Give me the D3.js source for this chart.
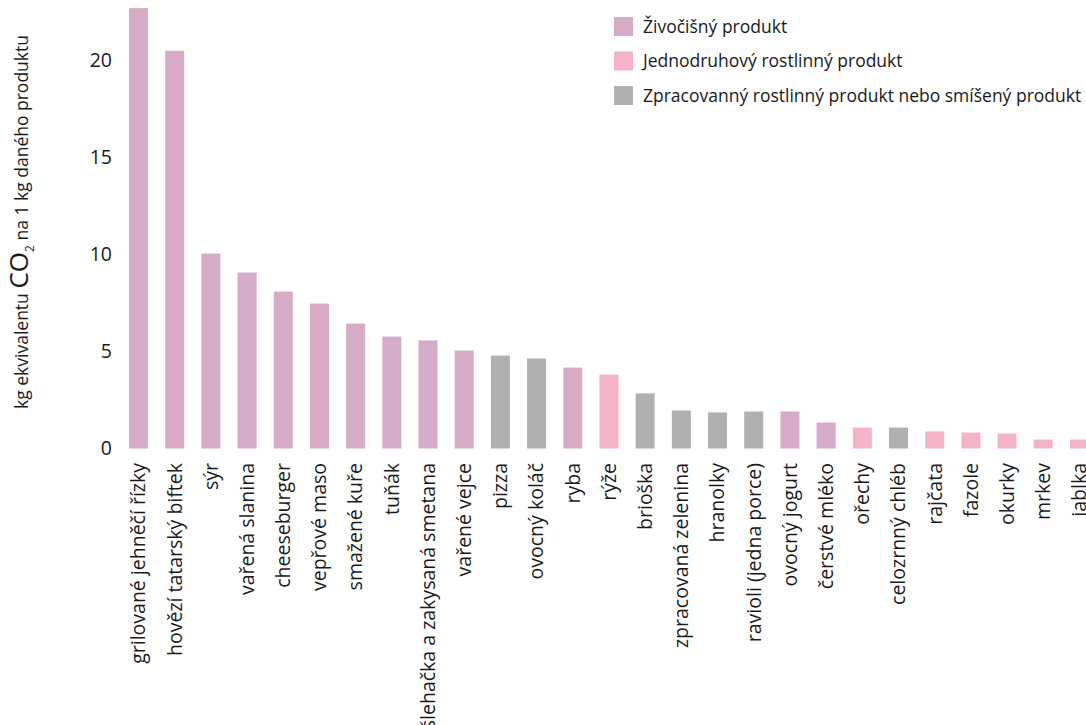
<!DOCTYPE html>
<html>
<head>
<meta charset="utf-8">
<script src="https://cdn.jsdelivr.net/npm/d3@7"></script>
<style>
  html, body { margin: 0; padding: 0; background: #fff; overflow: hidden; }
  svg { display: block; font-family: "Open Sans", "Noto Sans", sans-serif; }
</style>
</head>
<body>
<svg id="chart" width="1086" height="725"></svg>
<script>
const categories = [
  "grilované jehněčí řízky", "hovězí tatarský biftek", "sýr", "vařená slanina",
  "cheeseburger", "vepřové maso", "smažené kuře", "tuňák",
  "šlehačka a zakysaná smetana", "vařené vejce", "pizza", "ovocný koláč",
  "ryba", "rýže", "brioška", "zpracovaná zelenina", "hranolky",
  "ravioli (jedna porce)", "ovocný jogurt", "čerstvé mléko", "ořechy",
  "celozrnný chléb", "rajčata", "fazole", "okurky", "mrkev", "jablka"
];
const values = [
  22.7, 20.5, 10.05, 9.07, 8.09, 7.47, 6.44, 5.77, 5.57, 5.05, 4.79, 4.64,
  4.17, 3.81, 2.84, 1.96, 1.86, 1.91, 1.91, 1.34, 1.08, 1.08, 0.88, 0.82,
  0.77, 0.46, 0.46
];
// 0 = živočišný, 1 = jednodruhový rostlinný, 2 = zpracovaný/smíšený
const groups = [
  0, 0, 0, 0, 0, 0, 0, 0, 0, 0, 2, 2, 0, 1, 2, 2, 2, 2, 0, 0, 1, 2, 1, 1, 1, 1, 1
];
const legendLabels = [
  "Živočišný produkt",
  "Jednodruhový rostlinný produkt",
  "Zpracovanný rostlinný produkt nebo smíšený produkt"
];
const groupColors = ["#d6abc8", "#f5b4c6", "#b0b0af"];
const yTicks = [0, 5, 10, 15, 20];

const svg = d3.select("#chart");

const step = 36.19;
const inner = 1 - 19 / step;
const x0 = 129 - step * inner / 2;
const x = d3.scaleBand()
  .domain(categories)
  .range([x0, x0 + step * categories.length])
  .paddingInner(inner)
  .paddingOuter(inner / 2);

const y = d3.scaleLinear().domain([0, 20]).range([448.5, 60.5]);
const color = d3.scaleOrdinal().domain([0, 1, 2]).range(groupColors);

// bars
svg.append("g").selectAll("rect")
  .data(categories)
  .join("rect")
  .attr("x", d => x(d))
  .attr("width", x.bandwidth())
  .attr("y", (d, i) => y(values[i]))
  .attr("height", (d, i) => y(0) - y(values[i]))
  .attr("fill", (d, i) => color(groups[i]));

// y axis
const yAxis = d3.axisLeft(y).tickValues(yTicks).tickSize(0).tickPadding(0).tickFormat(d3.format("d"));
const gy = svg.append("g").attr("transform", "translate(112,0)").call(yAxis);
gy.select(".domain").remove();
gy.selectAll("text").attr("font-size", 19.5).attr("fill", "#1a1a1a")
  .attr("font-family", "Open Sans, sans-serif");

// x axis labels
const xAxis = d3.axisBottom(x).tickSize(0).tickPadding(0);
const gx = svg.append("g").attr("transform", "translate(0,463)").call(xAxis);
gx.select(".domain").remove();
gx.selectAll("text")
  .attr("font-size", 19.5)
  .attr("fill", "#1a1a1a")
  .attr("font-family", "Open Sans, sans-serif")
  .attr("transform", "rotate(-90)")
  .attr("text-anchor", "end")
  .attr("x", 0)
  .attr("y", 0)
  .attr("dy", "0.35em");

// y axis title
const yt = svg.append("text")
  .attr("transform", "translate(28,222) rotate(-90)")
  .attr("text-anchor", "middle")
  .attr("font-size", 17.5)
  .attr("fill", "#1a1a1a");
yt.append("tspan").text("kg ekvivalentu ");
yt.append("tspan").attr("font-size", 26).text("CO");
yt.append("tspan").attr("font-size", 12).attr("dy", 6).text("2");
yt.append("tspan").attr("dy", -6).text(" na 1 kg daného produktu");

// legend
const lg = svg.append("g").attr("transform", "translate(614,17)");
const items = lg.selectAll("g").data(legendLabels).join("g")
  .attr("transform", (d, i) => `translate(0,${i * 34.5})`);
items.append("rect").attr("width", 19).attr("height", 19)
  .attr("fill", (d, i) => groupColors[i]);
items.append("text").attr("x", 29).attr("y", 9.5).attr("dy", "0.35em")
  .attr("font-size", 17.5).attr("fill", "#1a1a1a").text(d => d);
</script>
</body>
</html>
